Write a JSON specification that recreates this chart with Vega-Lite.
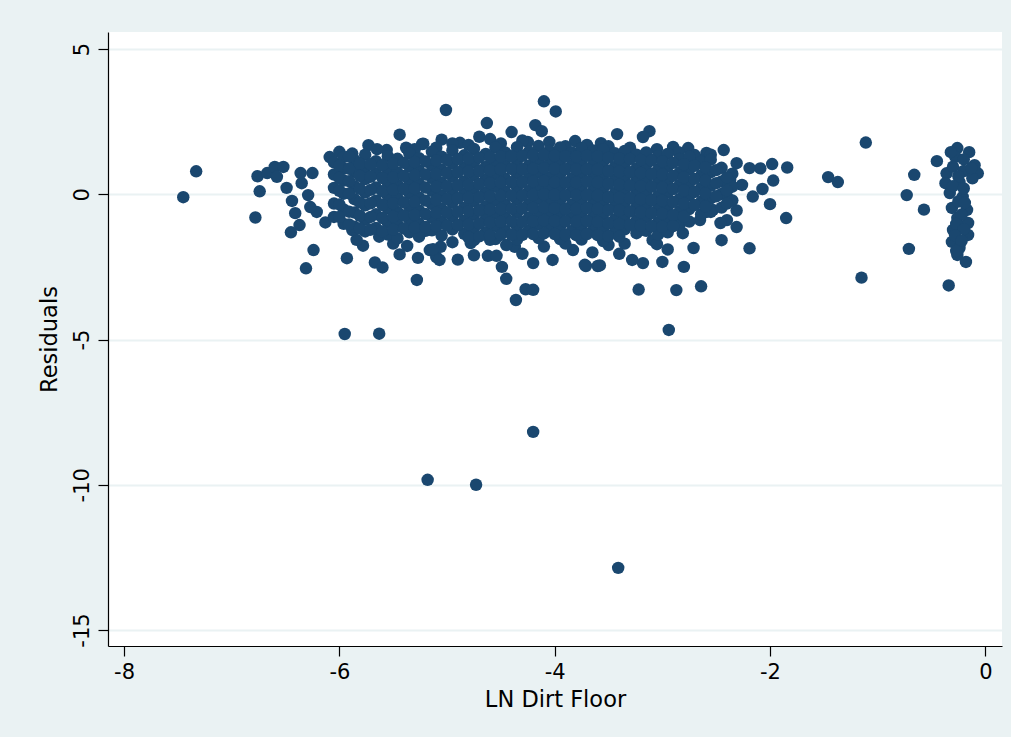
{
  "$schema": "https://vega.github.io/schema/vega-lite/v6.json",
  "width": 894,
  "height": 614,
  "autosize": {"type": "none"},
  "padding": {"left": 108, "top": 32, "right": 9, "bottom": 91},
  "background": "#eaf2f3",
  "config": {
    "view": {"fill": "white", "stroke": null},
    "font": "DejaVu Sans"
  },
  "data": {
    "values": [
      {"lndirt": -7.45, "resid": -0.10}, {"lndirt": -7.33, "resid": 0.79}, {"lndirt": -6.78, "resid": -0.80}, {"lndirt": -6.76, "resid": 0.62},
      {"lndirt": -6.74, "resid": 0.10}, {"lndirt": -6.67, "resid": 0.73}, {"lndirt": -6.60, "resid": 0.94}, {"lndirt": -6.52, "resid": 0.94},
      {"lndirt": -6.58, "resid": 0.60}, {"lndirt": -6.49, "resid": 0.22}, {"lndirt": -6.44, "resid": -0.23}, {"lndirt": -6.41, "resid": -0.65},
      {"lndirt": -6.37, "resid": -1.06}, {"lndirt": -6.45, "resid": -1.31}, {"lndirt": -6.31, "resid": -2.55}, {"lndirt": -6.24, "resid": -1.92},
      {"lndirt": -5.93, "resid": -2.20}, {"lndirt": -5.95, "resid": -4.81}, {"lndirt": -5.63, "resid": -4.80}, {"lndirt": -5.67, "resid": -2.35},
      {"lndirt": -5.60, "resid": -2.52}, {"lndirt": -5.28, "resid": -2.95}, {"lndirt": -5.44, "resid": -2.07}, {"lndirt": -5.27, "resid": -2.19},
      {"lndirt": -5.37, "resid": -1.78}, {"lndirt": -5.63, "resid": -1.46}, {"lndirt": -5.78, "resid": -1.77}, {"lndirt": -5.84, "resid": -1.57},
      {"lndirt": -5.88, "resid": -1.23}, {"lndirt": -6.13, "resid": -0.97}, {"lndirt": -6.21, "resid": -0.61}, {"lndirt": -6.27, "resid": -0.44},
      {"lndirt": -6.29, "resid": -0.03}, {"lndirt": -6.35, "resid": 0.38}, {"lndirt": -6.25, "resid": 0.73}, {"lndirt": -6.36, "resid": 0.73},
      {"lndirt": -6.09, "resid": 1.28}, {"lndirt": -6.00, "resid": 1.46}, {"lndirt": -5.88, "resid": 1.40}, {"lndirt": -5.73, "resid": 1.69},
      {"lndirt": -5.44, "resid": 2.05}, {"lndirt": -5.38, "resid": 1.60}, {"lndirt": -5.23, "resid": 1.73}, {"lndirt": -5.56, "resid": 1.52},
      {"lndirt": -5.32, "resid": -1.23}, {"lndirt": -5.20, "resid": -1.26}, {"lndirt": -5.16, "resid": -1.92}, {"lndirt": -5.10, "resid": -2.16},
      {"lndirt": -5.07, "resid": -2.26}, {"lndirt": -5.06, "resid": -1.81}, {"lndirt": -5.01, "resid": 2.90}, {"lndirt": -5.05, "resid": 1.88},
      {"lndirt": -5.18, "resid": -9.83}, {"lndirt": -4.73, "resid": -10.00}, {"lndirt": -4.20, "resid": -8.18}, {"lndirt": -3.41, "resid": -12.86},
      {"lndirt": -2.94, "resid": -4.67},
      {"lndirt": -4.10, "resid": 3.20}, {"lndirt": -3.99, "resid": 2.85}, {"lndirt": -4.63, "resid": 2.45}, {"lndirt": -4.18, "resid": 2.38},
      {"lndirt": -4.12, "resid": 2.17}, {"lndirt": -4.40, "resid": 2.14}, {"lndirt": -5.22, "resid": 1.74}, {"lndirt": -4.88, "resid": 1.77},
      {"lndirt": -4.70, "resid": 1.98}, {"lndirt": -4.60, "resid": 1.90}, {"lndirt": -4.25, "resid": 1.80}, {"lndirt": -3.81, "resid": 1.83},
      {"lndirt": -3.57, "resid": 1.76}, {"lndirt": -3.42, "resid": 2.07}, {"lndirt": -4.36, "resid": -3.64}, {"lndirt": -4.27, "resid": -3.27},
      {"lndirt": -4.20, "resid": -3.29}, {"lndirt": -4.45, "resid": -2.91}, {"lndirt": -4.49, "resid": -2.50}, {"lndirt": -4.62, "resid": -2.12},
      {"lndirt": -4.54, "resid": -2.12}, {"lndirt": -4.20, "resid": -2.37}, {"lndirt": -4.02, "resid": -2.26}, {"lndirt": -3.71, "resid": -2.47},
      {"lndirt": -3.60, "resid": -2.47}, {"lndirt": -3.83, "resid": -1.92}, {"lndirt": -4.37, "resid": -1.81}, {"lndirt": -5.13, "resid": -1.89},
      {"lndirt": -4.78, "resid": -1.68}, {"lndirt": -4.60, "resid": -1.57},
      {"lndirt": -3.12, "resid": 2.17}, {"lndirt": -3.18, "resid": 1.97}, {"lndirt": -2.90, "resid": 1.63}, {"lndirt": -2.76, "resid": 1.59},
      {"lndirt": -2.43, "resid": 1.52}, {"lndirt": -2.31, "resid": 1.07}, {"lndirt": -2.59, "resid": 1.42}, {"lndirt": -2.65, "resid": 1.18},
      {"lndirt": -2.37, "resid": -0.20}, {"lndirt": -2.31, "resid": -1.13}, {"lndirt": -2.45, "resid": -1.58}, {"lndirt": -2.71, "resid": -1.85},
      {"lndirt": -2.80, "resid": -2.50}, {"lndirt": -3.00, "resid": -2.33}, {"lndirt": -3.18, "resid": -2.37}, {"lndirt": -3.28, "resid": -2.26},
      {"lndirt": -3.22, "resid": -3.28}, {"lndirt": -2.87, "resid": -3.30}, {"lndirt": -2.64, "resid": -3.17}, {"lndirt": -3.58, "resid": -2.45},
      {"lndirt": -3.72, "resid": -2.43}, {"lndirt": -3.09, "resid": -1.58}, {"lndirt": -2.81, "resid": -1.34}, {"lndirt": -2.84, "resid": -0.89},
      {"lndirt": -2.65, "resid": -0.89}, {"lndirt": -2.53, "resid": -0.54}, {"lndirt": -2.40, "resid": -0.89},
      {"lndirt": -2.55, "resid": 1.36}, {"lndirt": -2.09, "resid": 0.89}, {"lndirt": -1.98, "resid": 1.04}, {"lndirt": -1.84, "resid": 0.92},
      {"lndirt": -2.19, "resid": 0.90}, {"lndirt": -2.26, "resid": 0.32}, {"lndirt": -2.37, "resid": 0.49}, {"lndirt": -1.97, "resid": 0.47},
      {"lndirt": -2.07, "resid": 0.18}, {"lndirt": -2.16, "resid": -0.08}, {"lndirt": -2.00, "resid": -0.34}, {"lndirt": -1.85, "resid": -0.82},
      {"lndirt": -2.31, "resid": -0.56}, {"lndirt": -2.19, "resid": -1.86}, {"lndirt": -2.59, "resid": -0.61}, {"lndirt": -2.46, "resid": -0.99},
      {"lndirt": -1.46, "resid": 0.59}, {"lndirt": -1.37, "resid": 0.42}, {"lndirt": -1.11, "resid": 1.78}, {"lndirt": -1.15, "resid": -2.87},
      {"lndirt": -0.73, "resid": -0.03}, {"lndirt": -0.66, "resid": 0.67}, {"lndirt": -0.57, "resid": -0.53}, {"lndirt": -0.71, "resid": -1.88},
      {"lndirt": -0.34, "resid": -3.14}, {"lndirt": -0.45, "resid": 1.14},
      {"lndirt": -0.26, "resid": 1.59}, {"lndirt": -0.15, "resid": 1.45}, {"lndirt": -0.10, "resid": 1.00}, {"lndirt": -0.07, "resid": 0.72},
      {"lndirt": -0.36, "resid": 0.72}, {"lndirt": -0.37, "resid": 0.38}, {"lndirt": -0.24, "resid": 0.42}, {"lndirt": -0.33, "resid": 0.04},
      {"lndirt": -0.21, "resid": -0.09}, {"lndirt": -0.31, "resid": -0.47}, {"lndirt": -0.17, "resid": -0.54}, {"lndirt": -0.26, "resid": -0.82},
      {"lndirt": -0.30, "resid": -1.23}, {"lndirt": -0.16, "resid": -0.99}, {"lndirt": -0.16, "resid": -1.40}, {"lndirt": -0.31, "resid": -1.64},
      {"lndirt": -0.24, "resid": -1.85}, {"lndirt": -0.26, "resid": -2.09}, {"lndirt": -0.18, "resid": -2.33}, {"lndirt": -0.28, "resid": 1.30},
      {"lndirt": -0.20, "resid": 1.20}, {"lndirt": -0.30, "resid": 0.95}, {"lndirt": -0.20, "resid": 0.80}, {"lndirt": -0.12, "resid": 0.55},
      {"lndirt": -0.25, "resid": 0.62}, {"lndirt": -0.30, "resid": 0.28}, {"lndirt": -0.20, "resid": 0.20}, {"lndirt": -0.25, "resid": -0.25},
      {"lndirt": -0.22, "resid": -0.70}, {"lndirt": -0.27, "resid": -1.02}, {"lndirt": -0.20, "resid": -1.20}, {"lndirt": -0.28, "resid": -1.42},
      {"lndirt": -0.22, "resid": -1.60}, {"lndirt": -0.27, "resid": -1.95}, {"lndirt": -0.13, "resid": 0.90}, {"lndirt": -0.32, "resid": 1.45},
      {"lndirt": -0.19, "resid": -0.30},
      {"lndirt": -5.50, "resid": -1.70}, {"lndirt": -4.95, "resid": -1.65}, {"lndirt": -4.45, "resid": -1.75}, {"lndirt": -4.10, "resid": -1.80},
      {"lndirt": -3.90, "resid": -1.70}, {"lndirt": -3.50, "resid": -1.75}, {"lndirt": -3.35, "resid": -1.70}, {"lndirt": -3.05, "resid": -1.72},
      {"lndirt": -2.95, "resid": -1.90}, {"lndirt": -3.40, "resid": -2.05}, {"lndirt": -3.65, "resid": -2.00}, {"lndirt": -4.30, "resid": -2.05},
      {"lndirt": -4.75, "resid": -2.10}, {"lndirt": -4.90, "resid": -2.25},
      {"lndirt": -5.65, "resid": 1.55}, {"lndirt": -5.30, "resid": 1.55}, {"lndirt": -5.10, "resid": 1.60}, {"lndirt": -4.95, "resid": 1.75},
      {"lndirt": -4.80, "resid": 1.70}, {"lndirt": -4.50, "resid": 1.75}, {"lndirt": -4.30, "resid": 1.85}, {"lndirt": -4.05, "resid": 1.80},
      {"lndirt": -3.90, "resid": 1.65}, {"lndirt": -3.70, "resid": 1.70}, {"lndirt": -3.50, "resid": 1.65}, {"lndirt": -3.30, "resid": 1.60},
      {"lndirt": -3.05, "resid": 1.55}, {"lndirt": -2.85, "resid": 1.45}, {"lndirt": -2.70, "resid": 1.35},
      {"lndirt": -6.05, "resid": 1.10}, {"lndirt": -6.05, "resid": 0.68}, {"lndirt": -6.05, "resid": 0.22}, {"lndirt": -6.05, "resid": -0.32}, {"lndirt": -6.05, "resid": -0.78},
      {"lndirt": -5.96, "resid": 1.28}, {"lndirt": -5.96, "resid": 0.88}, {"lndirt": -5.96, "resid": 0.47}, {"lndirt": -5.96, "resid": 0.02}, {"lndirt": -5.96, "resid": -0.52}, {"lndirt": -5.96, "resid": -1.02},
      {"lndirt": -5.86, "resid": 1.18}, {"lndirt": -5.86, "resid": 0.77}, {"lndirt": -5.86, "resid": 0.28}, {"lndirt": -5.86, "resid": -0.17}, {"lndirt": -5.86, "resid": -0.63}, {"lndirt": -5.86, "resid": -1.12},
      {"lndirt": -5.76, "resid": 1.36}, {"lndirt": -5.76, "resid": 0.93}, {"lndirt": -5.76, "resid": 0.52}, {"lndirt": -5.76, "resid": 0.06}, {"lndirt": -5.76, "resid": -0.38}, {"lndirt": -5.76, "resid": -0.87}, {"lndirt": -5.76, "resid": -1.28},
      {"lndirt": -5.66, "resid": 1.14}, {"lndirt": -5.66, "resid": 0.72}, {"lndirt": -5.66, "resid": 0.23}, {"lndirt": -5.66, "resid": -0.22}, {"lndirt": -5.66, "resid": -0.69}, {"lndirt": -5.66, "resid": -1.16},
      {"lndirt": -5.55, "resid": 1.31}, {"lndirt": -5.55, "resid": 0.86}, {"lndirt": -5.55, "resid": 0.41}, {"lndirt": -5.55, "resid": -0.06}, {"lndirt": -5.55, "resid": -0.49}, {"lndirt": -5.55, "resid": -0.97}, {"lndirt": -5.55, "resid": -1.39},
      {"lndirt": -5.46, "resid": 1.22}, {"lndirt": -5.46, "resid": 0.74}, {"lndirt": -5.46, "resid": 0.32}, {"lndirt": -5.46, "resid": -0.13}, {"lndirt": -5.46, "resid": -0.61}, {"lndirt": -5.46, "resid": -1.04}, {"lndirt": -5.46, "resid": -1.52},
      {"lndirt": -5.35, "resid": 1.41}, {"lndirt": -5.35, "resid": 0.96}, {"lndirt": -5.35, "resid": 0.48}, {"lndirt": -5.35, "resid": 0.04}, {"lndirt": -5.35, "resid": -0.42}, {"lndirt": -5.35, "resid": -0.86}, {"lndirt": -5.35, "resid": -1.31},
      {"lndirt": -5.26, "resid": 1.24}, {"lndirt": -5.26, "resid": 0.81}, {"lndirt": -5.26, "resid": 0.36}, {"lndirt": -5.26, "resid": -0.11}, {"lndirt": -5.26, "resid": -0.56}, {"lndirt": -5.26, "resid": -1.01}, {"lndirt": -5.26, "resid": -1.46},
      {"lndirt": -5.14, "resid": 1.46}, {"lndirt": -5.14, "resid": 0.99}, {"lndirt": -5.14, "resid": 0.56}, {"lndirt": -5.14, "resid": 0.12}, {"lndirt": -5.14, "resid": -0.34}, {"lndirt": -5.14, "resid": -0.81}, {"lndirt": -5.14, "resid": -1.24},
      {"lndirt": -5.05, "resid": 1.29}, {"lndirt": -5.05, "resid": 0.84}, {"lndirt": -5.05, "resid": 0.39}, {"lndirt": -5.05, "resid": -0.04}, {"lndirt": -5.05, "resid": -0.51}, {"lndirt": -5.05, "resid": -0.94}, {"lndirt": -5.05, "resid": -1.42},
      {"lndirt": -4.95, "resid": 1.51}, {"lndirt": -4.95, "resid": 1.06}, {"lndirt": -4.95, "resid": 0.61}, {"lndirt": -4.95, "resid": 0.14}, {"lndirt": -4.95, "resid": -0.29}, {"lndirt": -4.95, "resid": -0.76}, {"lndirt": -4.95, "resid": -1.21},
      {"lndirt": -4.84, "resid": 1.34}, {"lndirt": -4.84, "resid": 0.91}, {"lndirt": -4.84, "resid": 0.44}, {"lndirt": -4.84, "resid": 0.01}, {"lndirt": -4.84, "resid": -0.46}, {"lndirt": -4.84, "resid": -0.91}, {"lndirt": -4.84, "resid": -1.36},
      {"lndirt": -4.75, "resid": 1.56}, {"lndirt": -4.75, "resid": 1.09}, {"lndirt": -4.75, "resid": 0.66}, {"lndirt": -4.75, "resid": 0.19}, {"lndirt": -4.75, "resid": -0.24}, {"lndirt": -4.75, "resid": -0.71}, {"lndirt": -4.75, "resid": -1.16}, {"lndirt": -4.75, "resid": -1.58},
      {"lndirt": -4.64, "resid": 1.39}, {"lndirt": -4.64, "resid": 0.94}, {"lndirt": -4.64, "resid": 0.51}, {"lndirt": -4.64, "resid": 0.06}, {"lndirt": -4.64, "resid": -0.41}, {"lndirt": -4.64, "resid": -0.84}, {"lndirt": -4.64, "resid": -1.31},
      {"lndirt": -4.55, "resid": 1.61}, {"lndirt": -4.55, "resid": 1.14}, {"lndirt": -4.55, "resid": 0.69}, {"lndirt": -4.55, "resid": 0.26}, {"lndirt": -4.55, "resid": -0.21}, {"lndirt": -4.55, "resid": -0.66}, {"lndirt": -4.55, "resid": -1.09}, {"lndirt": -4.55, "resid": -1.54},
      {"lndirt": -4.46, "resid": 1.44}, {"lndirt": -4.46, "resid": 1.01}, {"lndirt": -4.46, "resid": 0.54}, {"lndirt": -4.46, "resid": 0.09}, {"lndirt": -4.46, "resid": -0.36}, {"lndirt": -4.46, "resid": -0.79}, {"lndirt": -4.46, "resid": -1.26},
      {"lndirt": -4.35, "resid": 1.62}, {"lndirt": -4.35, "resid": 1.16}, {"lndirt": -4.35, "resid": 0.71}, {"lndirt": -4.35, "resid": 0.24}, {"lndirt": -4.35, "resid": -0.19}, {"lndirt": -4.35, "resid": -0.64}, {"lndirt": -4.35, "resid": -1.11}, {"lndirt": -4.35, "resid": -1.56},
      {"lndirt": -4.24, "resid": 1.46}, {"lndirt": -4.24, "resid": 0.99}, {"lndirt": -4.24, "resid": 0.56}, {"lndirt": -4.24, "resid": 0.11}, {"lndirt": -4.24, "resid": -0.34}, {"lndirt": -4.24, "resid": -0.81}, {"lndirt": -4.24, "resid": -1.24},
      {"lndirt": -4.15, "resid": 1.66}, {"lndirt": -4.15, "resid": 1.19}, {"lndirt": -4.15, "resid": 0.76}, {"lndirt": -4.15, "resid": 0.29}, {"lndirt": -4.15, "resid": -0.16}, {"lndirt": -4.15, "resid": -0.61}, {"lndirt": -4.15, "resid": -1.04}, {"lndirt": -4.15, "resid": -1.51},
      {"lndirt": -4.05, "resid": 1.49}, {"lndirt": -4.05, "resid": 1.04}, {"lndirt": -4.05, "resid": 0.59}, {"lndirt": -4.05, "resid": 0.16}, {"lndirt": -4.05, "resid": -0.31}, {"lndirt": -4.05, "resid": -0.74}, {"lndirt": -4.05, "resid": -1.19},
      {"lndirt": -3.95, "resid": 1.61}, {"lndirt": -3.95, "resid": 1.16}, {"lndirt": -3.95, "resid": 0.69}, {"lndirt": -3.95, "resid": 0.24}, {"lndirt": -3.95, "resid": -0.21}, {"lndirt": -3.95, "resid": -0.66}, {"lndirt": -3.95, "resid": -1.11}, {"lndirt": -3.95, "resid": -1.54},
      {"lndirt": -3.84, "resid": 1.44}, {"lndirt": -3.84, "resid": 1.01}, {"lndirt": -3.84, "resid": 0.54}, {"lndirt": -3.84, "resid": 0.11}, {"lndirt": -3.84, "resid": -0.36}, {"lndirt": -3.84, "resid": -0.79}, {"lndirt": -3.84, "resid": -1.26},
      {"lndirt": -3.75, "resid": 1.59}, {"lndirt": -3.75, "resid": 1.14}, {"lndirt": -3.75, "resid": 0.71}, {"lndirt": -3.75, "resid": 0.26}, {"lndirt": -3.75, "resid": -0.19}, {"lndirt": -3.75, "resid": -0.64}, {"lndirt": -3.75, "resid": -1.09}, {"lndirt": -3.75, "resid": -1.56},
      {"lndirt": -3.64, "resid": 1.51}, {"lndirt": -3.64, "resid": 1.04}, {"lndirt": -3.64, "resid": 0.61}, {"lndirt": -3.64, "resid": 0.14}, {"lndirt": -3.64, "resid": -0.31}, {"lndirt": -3.64, "resid": -0.76}, {"lndirt": -3.64, "resid": -1.21},
      {"lndirt": -3.55, "resid": 1.54}, {"lndirt": -3.55, "resid": 1.11}, {"lndirt": -3.55, "resid": 0.64}, {"lndirt": -3.55, "resid": 0.21}, {"lndirt": -3.55, "resid": -0.26}, {"lndirt": -3.55, "resid": -0.69}, {"lndirt": -3.55, "resid": -1.16}, {"lndirt": -3.55, "resid": -1.61},
      {"lndirt": -3.44, "resid": 1.41}, {"lndirt": -3.44, "resid": 0.94}, {"lndirt": -3.44, "resid": 0.51}, {"lndirt": -3.44, "resid": 0.04}, {"lndirt": -3.44, "resid": -0.39}, {"lndirt": -3.44, "resid": -0.86}, {"lndirt": -3.44, "resid": -1.29},
      {"lndirt": -3.35, "resid": 1.49}, {"lndirt": -3.35, "resid": 1.06}, {"lndirt": -3.35, "resid": 0.59}, {"lndirt": -3.35, "resid": 0.16}, {"lndirt": -3.35, "resid": -0.29}, {"lndirt": -3.35, "resid": -0.74}, {"lndirt": -3.35, "resid": -1.21},
      {"lndirt": -3.24, "resid": 1.36}, {"lndirt": -3.24, "resid": 0.89}, {"lndirt": -3.24, "resid": 0.46}, {"lndirt": -3.24, "resid": 0.01}, {"lndirt": -3.24, "resid": -0.44}, {"lndirt": -3.24, "resid": -0.91}, {"lndirt": -3.24, "resid": -1.34},
      {"lndirt": -3.15, "resid": 1.44}, {"lndirt": -3.15, "resid": 1.01}, {"lndirt": -3.15, "resid": 0.54}, {"lndirt": -3.15, "resid": 0.09}, {"lndirt": -3.15, "resid": -0.36}, {"lndirt": -3.15, "resid": -0.79}, {"lndirt": -3.15, "resid": -1.26},
      {"lndirt": -3.04, "resid": 1.31}, {"lndirt": -3.04, "resid": 0.84}, {"lndirt": -3.04, "resid": 0.41}, {"lndirt": -3.04, "resid": -0.06}, {"lndirt": -3.04, "resid": -0.49}, {"lndirt": -3.04, "resid": -0.96}, {"lndirt": -3.04, "resid": -1.39},
      {"lndirt": -2.95, "resid": 1.39}, {"lndirt": -2.95, "resid": 0.96}, {"lndirt": -2.95, "resid": 0.49}, {"lndirt": -2.95, "resid": 0.06}, {"lndirt": -2.95, "resid": -0.41}, {"lndirt": -2.95, "resid": -0.84}, {"lndirt": -2.95, "resid": -1.31},
      {"lndirt": -2.84, "resid": 1.21}, {"lndirt": -2.84, "resid": 0.74}, {"lndirt": -2.84, "resid": 0.31}, {"lndirt": -2.84, "resid": -0.16}, {"lndirt": -2.84, "resid": -0.59}, {"lndirt": -2.84, "resid": -1.06},
      {"lndirt": -2.75, "resid": 1.29}, {"lndirt": -2.75, "resid": 0.86}, {"lndirt": -2.75, "resid": 0.39}, {"lndirt": -2.75, "resid": -0.04}, {"lndirt": -2.75, "resid": -0.51}, {"lndirt": -2.75, "resid": -0.94},
      {"lndirt": -2.64, "resid": 1.11}, {"lndirt": -2.64, "resid": 0.64}, {"lndirt": -2.64, "resid": 0.21}, {"lndirt": -2.64, "resid": -0.26}, {"lndirt": -2.64, "resid": -0.69},
      {"lndirt": -2.55, "resid": 1.19}, {"lndirt": -2.55, "resid": 0.76}, {"lndirt": -2.55, "resid": 0.29}, {"lndirt": -2.55, "resid": -0.14}, {"lndirt": -2.55, "resid": -0.61},
      {"lndirt": -2.45, "resid": 0.91}, {"lndirt": -2.45, "resid": 0.44}, {"lndirt": -2.45, "resid": 0.01}, {"lndirt": -2.45, "resid": -0.46},
      {"lndirt": -2.35, "resid": 0.71}, {"lndirt": -2.35, "resid": 0.26}, {"lndirt": -2.35, "resid": -0.21},
      {"lndirt": -6.00, "resid": 0.98}, {"lndirt": -6.00, "resid": 0.56}, {"lndirt": -6.00, "resid": 0.12}, {"lndirt": -6.00, "resid": -0.35}, {"lndirt": -6.00, "resid": -0.78},
      {"lndirt": -5.91, "resid": 1.30}, {"lndirt": -5.91, "resid": 0.88}, {"lndirt": -5.91, "resid": 0.45}, {"lndirt": -5.91, "resid": 0.03}, {"lndirt": -5.91, "resid": -0.60}, {"lndirt": -5.91, "resid": -1.04},
      {"lndirt": -5.81, "resid": 1.05}, {"lndirt": -5.81, "resid": 0.63}, {"lndirt": -5.81, "resid": 0.19}, {"lndirt": -5.81, "resid": -0.28}, {"lndirt": -5.81, "resid": -0.74}, {"lndirt": -5.81, "resid": -1.18},
      {"lndirt": -5.71, "resid": 1.03}, {"lndirt": -5.71, "resid": 0.60}, {"lndirt": -5.71, "resid": 0.15}, {"lndirt": -5.71, "resid": -0.31}, {"lndirt": -5.71, "resid": -0.78}, {"lndirt": -5.71, "resid": -1.22},
      {"lndirt": -5.60, "resid": 1.00}, {"lndirt": -5.60, "resid": 0.56}, {"lndirt": -5.60, "resid": 0.10}, {"lndirt": -5.60, "resid": -0.37}, {"lndirt": -5.60, "resid": -0.82}, {"lndirt": -5.60, "resid": -1.28},
      {"lndirt": -5.50, "resid": 1.05}, {"lndirt": -5.50, "resid": 0.58}, {"lndirt": -5.50, "resid": 0.15}, {"lndirt": -5.50, "resid": -0.31}, {"lndirt": -5.50, "resid": -0.77}, {"lndirt": -5.50, "resid": -1.22},
      {"lndirt": -5.40, "resid": 1.08}, {"lndirt": -5.40, "resid": 0.63}, {"lndirt": -5.40, "resid": 0.18}, {"lndirt": -5.40, "resid": -0.28}, {"lndirt": -5.40, "resid": -0.73}, {"lndirt": -5.40, "resid": -1.18},
      {"lndirt": -5.30, "resid": 1.11}, {"lndirt": -5.30, "resid": 0.66}, {"lndirt": -5.30, "resid": 0.20}, {"lndirt": -5.30, "resid": -0.26}, {"lndirt": -5.30, "resid": -0.71}, {"lndirt": -5.30, "resid": -1.15},
      {"lndirt": -5.20, "resid": 1.13}, {"lndirt": -5.20, "resid": 0.68}, {"lndirt": -5.20, "resid": 0.23}, {"lndirt": -5.20, "resid": -0.22}, {"lndirt": -5.20, "resid": -0.68}, {"lndirt": -5.20, "resid": -1.13},
      {"lndirt": -5.10, "resid": 1.16}, {"lndirt": -5.10, "resid": 0.70}, {"lndirt": -5.10, "resid": 0.26}, {"lndirt": -5.10, "resid": -0.19}, {"lndirt": -5.10, "resid": -0.64}, {"lndirt": -5.10, "resid": -1.10},
      {"lndirt": -5.00, "resid": 1.18}, {"lndirt": -5.00, "resid": 0.73}, {"lndirt": -5.00, "resid": 0.28}, {"lndirt": -5.00, "resid": -0.17}, {"lndirt": -5.00, "resid": -0.62}, {"lndirt": -5.00, "resid": -1.08},
      {"lndirt": -4.90, "resid": 1.21}, {"lndirt": -4.90, "resid": 0.76}, {"lndirt": -4.90, "resid": 0.31}, {"lndirt": -4.90, "resid": -0.14}, {"lndirt": -4.90, "resid": -0.60}, {"lndirt": -4.90, "resid": -1.06},
      {"lndirt": -4.80, "resid": 1.23}, {"lndirt": -4.80, "resid": 0.78}, {"lndirt": -4.80, "resid": 0.33}, {"lndirt": -4.80, "resid": -0.12}, {"lndirt": -4.80, "resid": -0.58}, {"lndirt": -4.80, "resid": -1.04}, {"lndirt": -4.80, "resid": -1.48},
      {"lndirt": -4.70, "resid": 1.26}, {"lndirt": -4.70, "resid": 0.80}, {"lndirt": -4.70, "resid": 0.35}, {"lndirt": -4.70, "resid": -0.10}, {"lndirt": -4.70, "resid": -0.55}, {"lndirt": -4.70, "resid": -1.01}, {"lndirt": -4.70, "resid": -1.45},
      {"lndirt": -4.60, "resid": 1.28}, {"lndirt": -4.60, "resid": 0.82}, {"lndirt": -4.60, "resid": 0.38}, {"lndirt": -4.60, "resid": -0.07}, {"lndirt": -4.60, "resid": -0.53}, {"lndirt": -4.60, "resid": -0.97}, {"lndirt": -4.60, "resid": -1.42},
      {"lndirt": -4.50, "resid": 1.30}, {"lndirt": -4.50, "resid": 0.86}, {"lndirt": -4.50, "resid": 0.40}, {"lndirt": -4.50, "resid": -0.05}, {"lndirt": -4.50, "resid": -0.51}, {"lndirt": -4.50, "resid": -0.95}, {"lndirt": -4.50, "resid": -1.40},
      {"lndirt": -4.40, "resid": 1.31}, {"lndirt": -4.40, "resid": 0.87}, {"lndirt": -4.40, "resid": 0.41}, {"lndirt": -4.40, "resid": -0.05}, {"lndirt": -4.40, "resid": -0.50}, {"lndirt": -4.40, "resid": -0.94}, {"lndirt": -4.40, "resid": -1.40},
      {"lndirt": -4.30, "resid": 1.32}, {"lndirt": -4.30, "resid": 0.86}, {"lndirt": -4.30, "resid": 0.42}, {"lndirt": -4.30, "resid": -0.04}, {"lndirt": -4.30, "resid": -0.49}, {"lndirt": -4.30, "resid": -0.95}, {"lndirt": -4.30, "resid": -1.40},
      {"lndirt": -4.20, "resid": 1.34}, {"lndirt": -4.20, "resid": 0.88}, {"lndirt": -4.20, "resid": 0.44}, {"lndirt": -4.20, "resid": -0.02}, {"lndirt": -4.20, "resid": -0.47}, {"lndirt": -4.20, "resid": -0.93}, {"lndirt": -4.20, "resid": -1.37},
      {"lndirt": -4.10, "resid": 1.36}, {"lndirt": -4.10, "resid": 0.90}, {"lndirt": -4.10, "resid": 0.46}, {"lndirt": -4.10, "resid": 0.00}, {"lndirt": -4.10, "resid": -0.46}, {"lndirt": -4.10, "resid": -0.90}, {"lndirt": -4.10, "resid": -1.35},
      {"lndirt": -4.00, "resid": 1.33}, {"lndirt": -4.00, "resid": 0.88}, {"lndirt": -4.00, "resid": 0.42}, {"lndirt": -4.00, "resid": -0.02}, {"lndirt": -4.00, "resid": -0.48}, {"lndirt": -4.00, "resid": -0.92}, {"lndirt": -4.00, "resid": -1.37},
      {"lndirt": -3.90, "resid": 1.31}, {"lndirt": -3.90, "resid": 0.86}, {"lndirt": -3.90, "resid": 0.40}, {"lndirt": -3.90, "resid": -0.04}, {"lndirt": -3.90, "resid": -0.51}, {"lndirt": -3.90, "resid": -0.94}, {"lndirt": -3.90, "resid": -1.40},
      {"lndirt": -3.80, "resid": 1.30}, {"lndirt": -3.80, "resid": 0.86}, {"lndirt": -3.80, "resid": 0.41}, {"lndirt": -3.80, "resid": -0.03}, {"lndirt": -3.80, "resid": -0.50}, {"lndirt": -3.80, "resid": -0.94}, {"lndirt": -3.80, "resid": -1.41},
      {"lndirt": -3.70, "resid": 1.33}, {"lndirt": -3.70, "resid": 0.87}, {"lndirt": -3.70, "resid": 0.44}, {"lndirt": -3.70, "resid": -0.02}, {"lndirt": -3.70, "resid": -0.47}, {"lndirt": -3.70, "resid": -0.92}, {"lndirt": -3.70, "resid": -1.37},
      {"lndirt": -3.60, "resid": 1.31}, {"lndirt": -3.60, "resid": 0.86}, {"lndirt": -3.60, "resid": 0.41}, {"lndirt": -3.60, "resid": -0.04}, {"lndirt": -3.60, "resid": -0.50}, {"lndirt": -3.60, "resid": -0.95}, {"lndirt": -3.60, "resid": -1.41},
      {"lndirt": -3.50, "resid": 1.26}, {"lndirt": -3.50, "resid": 0.80}, {"lndirt": -3.50, "resid": 0.36}, {"lndirt": -3.50, "resid": -0.10}, {"lndirt": -3.50, "resid": -0.54}, {"lndirt": -3.50, "resid": -1.00}, {"lndirt": -3.50, "resid": -1.44},
      {"lndirt": -3.40, "resid": 1.23}, {"lndirt": -3.40, "resid": 0.78}, {"lndirt": -3.40, "resid": 0.33}, {"lndirt": -3.40, "resid": -0.12}, {"lndirt": -3.40, "resid": -0.56}, {"lndirt": -3.40, "resid": -1.02}, {"lndirt": -3.40, "resid": -1.46},
      {"lndirt": -3.30, "resid": 1.21}, {"lndirt": -3.30, "resid": 0.76}, {"lndirt": -3.30, "resid": 0.30}, {"lndirt": -3.30, "resid": -0.14}, {"lndirt": -3.30, "resid": -0.59}, {"lndirt": -3.30, "resid": -1.05},
      {"lndirt": -3.20, "resid": 1.18}, {"lndirt": -3.20, "resid": 0.73}, {"lndirt": -3.20, "resid": 0.28}, {"lndirt": -3.20, "resid": -0.17}, {"lndirt": -3.20, "resid": -0.62}, {"lndirt": -3.20, "resid": -1.07},
      {"lndirt": -3.10, "resid": 1.16}, {"lndirt": -3.10, "resid": 0.70}, {"lndirt": -3.10, "resid": 0.26}, {"lndirt": -3.10, "resid": -0.20}, {"lndirt": -3.10, "resid": -0.65}, {"lndirt": -3.10, "resid": -1.10},
      {"lndirt": -3.00, "resid": 1.13}, {"lndirt": -3.00, "resid": 0.68}, {"lndirt": -3.00, "resid": 0.23}, {"lndirt": -3.00, "resid": -0.22}, {"lndirt": -3.00, "resid": -0.67}, {"lndirt": -3.00, "resid": -1.12},
      {"lndirt": -2.90, "resid": 1.08}, {"lndirt": -2.90, "resid": 0.63}, {"lndirt": -2.90, "resid": 0.18}, {"lndirt": -2.90, "resid": -0.27}, {"lndirt": -2.90, "resid": -0.72}, {"lndirt": -2.90, "resid": -1.10},
      {"lndirt": -2.80, "resid": 1.03}, {"lndirt": -2.80, "resid": 0.58}, {"lndirt": -2.80, "resid": 0.13}, {"lndirt": -2.80, "resid": -0.32}, {"lndirt": -2.80, "resid": -0.77},
      {"lndirt": -2.70, "resid": 0.98}, {"lndirt": -2.70, "resid": 0.53}, {"lndirt": -2.70, "resid": 0.08}, {"lndirt": -2.70, "resid": -0.37},
      {"lndirt": -2.60, "resid": 0.93}, {"lndirt": -2.60, "resid": 0.48}, {"lndirt": -2.60, "resid": 0.03}, {"lndirt": -2.60, "resid": -0.42},
      {"lndirt": -2.50, "resid": 0.83}, {"lndirt": -2.50, "resid": 0.38}, {"lndirt": -2.50, "resid": -0.07},
      {"lndirt": -2.40, "resid": 0.58}, {"lndirt": -2.40, "resid": 0.13}, {"lndirt": -2.40, "resid": -0.32}
    ]
  },
  "mark": {"type": "circle", "size": 155, "color": "#1a476f", "opacity": 1},
  "encoding": {
    "x": {
      "field": "lndirt",
      "type": "quantitative",
      "scale": {"domain": [-8.149, 0.155], "nice": false, "zero": false},
      "axis": {
        "values": [-8, -6, -4, -2, 0],
        "labelExpr": "'' + datum.value",
        "title": "LN Dirt Floor",
        "grid": false,
        "domainColor": "#000000",
        "domainWidth": 1.2,
        "tickColor": "#000000",
        "tickWidth": 1.2,
        "tickSize": 10,
        "labelFontSize": 21,
        "labelColor": "#000000",
        "labelPadding": 5,
        "titleFontSize": 22.5,
        "titleFontWeight": "normal",
        "titleColor": "#000000",
        "titlePadding": 6
      }
    },
    "y": {
      "field": "resid",
      "type": "quantitative",
      "scale": {"domain": [-15.55, 5.585], "nice": false, "zero": false},
      "axis": {
        "values": [-15, -10, -5, 0, 5],
        "labelExpr": "'' + datum.value",
        "title": "Residuals",
        "grid": true,
        "gridColor": "#eaf2f3",
        "gridWidth": 2,
        "domainColor": "#000000",
        "domainWidth": 1.2,
        "tickColor": "#000000",
        "tickWidth": 1.2,
        "tickSize": 10,
        "labelAngle": -90,
        "labelAlign": "center",
        "labelBaseline": "bottom",
        "labelFontSize": 21,
        "labelColor": "#000000",
        "labelPadding": 6,
        "titleFontSize": 22.5,
        "titleFontWeight": "normal",
        "titleColor": "#000000",
        "titlePadding": 10
      }
    }
  }
}
